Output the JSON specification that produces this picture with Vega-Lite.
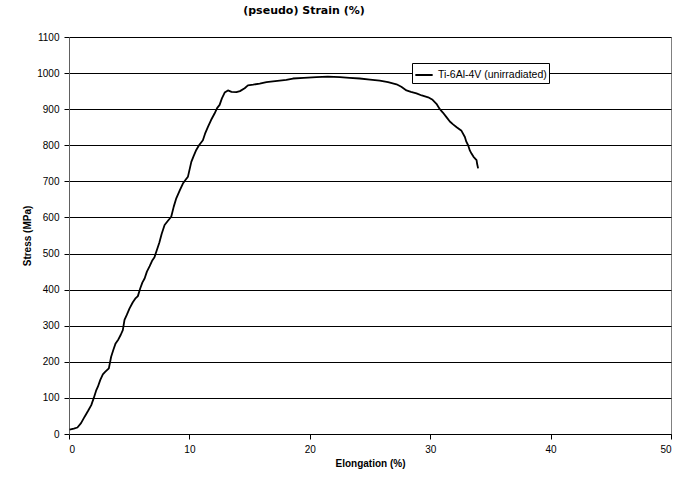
{
  "$schema": "https://vega.github.io/schema/vega-lite/v6.json",
  "width": 602,
  "height": 397,
  "autosize": {"type": "none"},
  "padding": {"left": 69, "top": 37, "right": 20, "bottom": 45},
  "background": "white",
  "title": {
    "text": "(pseudo) Strain (%)",
    "font": "DejaVu Sans",
    "fontSize": 11,
    "fontWeight": "bold",
    "color": "black",
    "anchor": "middle",
    "dx": -66,
    "offset": 16
  },
  "config": {
    "view": {"stroke": "#808080", "strokeWidth": 1},
    "axis": {
      "labelFont": "Liberation Sans",
      "titleFont": "Liberation Sans",
      "labelFontSize": 10,
      "titleFontSize": 10,
      "titleFontWeight": "bold",
      "labelColor": "black",
      "titleColor": "black",
      "domainColor": "black",
      "tickColor": "black",
      "tickSize": 5,
      "labelPadding": 5
    }
  },
  "data": {
    "values": [
      {"elongation": 0.05, "stress": 12},
      {"elongation": 0.4, "stress": 15},
      {"elongation": 0.7, "stress": 18},
      {"elongation": 1.0, "stress": 30},
      {"elongation": 1.3, "stress": 48},
      {"elongation": 1.6, "stress": 65},
      {"elongation": 1.85, "stress": 80},
      {"elongation": 2.06, "stress": 100},
      {"elongation": 2.25, "stress": 120},
      {"elongation": 2.4, "stress": 131},
      {"elongation": 2.6, "stress": 150},
      {"elongation": 2.81, "stress": 165},
      {"elongation": 3.0, "stress": 172},
      {"elongation": 3.31, "stress": 182},
      {"elongation": 3.5, "stress": 214},
      {"elongation": 3.7, "stress": 235},
      {"elongation": 3.87, "stress": 251},
      {"elongation": 4.1, "stress": 262},
      {"elongation": 4.3, "stress": 275},
      {"elongation": 4.47, "stress": 288},
      {"elongation": 4.61, "stress": 316},
      {"elongation": 4.8, "stress": 330},
      {"elongation": 5.03, "stress": 348},
      {"elongation": 5.3, "stress": 365},
      {"elongation": 5.5, "stress": 375},
      {"elongation": 5.72, "stress": 382},
      {"elongation": 5.92, "stress": 404},
      {"elongation": 6.1, "stress": 420},
      {"elongation": 6.28, "stress": 431},
      {"elongation": 6.47, "stress": 450},
      {"elongation": 6.7, "stress": 465},
      {"elongation": 6.9, "stress": 480},
      {"elongation": 7.1, "stress": 490},
      {"elongation": 7.25, "stress": 505},
      {"elongation": 7.5, "stress": 530},
      {"elongation": 7.7, "stress": 555},
      {"elongation": 7.94, "stress": 579},
      {"elongation": 8.2, "stress": 590},
      {"elongation": 8.49, "stress": 602},
      {"elongation": 8.7, "stress": 630},
      {"elongation": 8.91, "stress": 653},
      {"elongation": 9.2, "stress": 675},
      {"elongation": 9.46, "stress": 694},
      {"elongation": 9.7, "stress": 705},
      {"elongation": 9.88, "stress": 713},
      {"elongation": 10.16, "stress": 754},
      {"elongation": 10.35, "stress": 770},
      {"elongation": 10.57, "stress": 787},
      {"elongation": 10.8, "stress": 800},
      {"elongation": 11.12, "stress": 814},
      {"elongation": 11.3, "stress": 832},
      {"elongation": 11.54, "stress": 851},
      {"elongation": 11.8, "stress": 870},
      {"elongation": 12.09, "stress": 888},
      {"elongation": 12.3, "stress": 903},
      {"elongation": 12.51, "stress": 912},
      {"elongation": 12.7, "stress": 930},
      {"elongation": 12.93, "stress": 946},
      {"elongation": 13.2, "stress": 952},
      {"elongation": 13.5, "stress": 948},
      {"elongation": 13.9, "stress": 947},
      {"elongation": 14.2, "stress": 950},
      {"elongation": 14.59, "stress": 958},
      {"elongation": 14.86, "stress": 966},
      {"elongation": 15.3, "stress": 968},
      {"elongation": 15.84, "stress": 971},
      {"elongation": 16.4, "stress": 975},
      {"elongation": 16.94, "stress": 977},
      {"elongation": 17.5, "stress": 979},
      {"elongation": 18.05, "stress": 981},
      {"elongation": 18.6, "stress": 985},
      {"elongation": 19.5, "stress": 987},
      {"elongation": 20.55, "stress": 989},
      {"elongation": 21.5, "stress": 990},
      {"elongation": 22.5, "stress": 989},
      {"elongation": 23.3, "stress": 987},
      {"elongation": 24.15, "stress": 985},
      {"elongation": 25.0, "stress": 982},
      {"elongation": 25.81, "stress": 979},
      {"elongation": 26.5, "stress": 975},
      {"elongation": 27.2, "stress": 969},
      {"elongation": 27.6, "stress": 962},
      {"elongation": 28.03, "stress": 952},
      {"elongation": 28.4, "stress": 948},
      {"elongation": 28.86, "stress": 944},
      {"elongation": 29.3, "stress": 938},
      {"elongation": 29.83, "stress": 933},
      {"elongation": 30.2, "stress": 926},
      {"elongation": 30.52, "stress": 915},
      {"elongation": 30.8, "stress": 900},
      {"elongation": 31.07, "stress": 890},
      {"elongation": 31.35, "stress": 878},
      {"elongation": 31.63, "stress": 866},
      {"elongation": 31.9, "stress": 858},
      {"elongation": 32.2, "stress": 850},
      {"elongation": 32.6, "stress": 840},
      {"elongation": 32.88, "stress": 823},
      {"elongation": 33.0, "stress": 810},
      {"elongation": 33.15, "stress": 800},
      {"elongation": 33.3, "stress": 785},
      {"elongation": 33.43, "stress": 777},
      {"elongation": 33.6, "stress": 768},
      {"elongation": 33.85, "stress": 759},
      {"elongation": 33.9, "stress": 748},
      {"elongation": 33.98, "stress": 736}
    ]
  },
  "transform": [{"calculate": "'Ti-6Al-4V (unirradiated)'", "as": "series"}],
  "mark": {"type": "line", "strokeWidth": 1.8, "strokeJoin": "round", "interpolate": "linear"},
  "encoding": {
    "x": {
      "field": "elongation",
      "type": "quantitative",
      "scale": {"domain": [0, 50], "nice": false},
      "axis": {
        "values": [0, 10, 20, 30, 40, 50],
        "format": "d",
        "grid": false,
        "title": "Elongation (%)",
        "titlePadding": 4
      }
    },
    "y": {
      "field": "stress",
      "type": "quantitative",
      "scale": {"domain": [0, 1100], "nice": false},
      "axis": {
        "values": [0, 100, 200, 300, 400, 500, 600, 700, 800, 900, 1000, 1100],
        "format": "d",
        "grid": true,
        "gridColor": "black",
        "gridOpacity": 1,
        "gridWidth": 1,
        "domainColor": "#606060",
        "title": "Stress (MPa)",
        "titlePadding": 4
      }
    },
    "color": {
      "field": "series",
      "type": "nominal",
      "scale": {"range": ["black"]},
      "legend": {
        "title": null,
        "orient": "none",
        "legendX": 343,
        "legendY": 26,
        "direction": "vertical",
        "fillColor": "white",
        "strokeColor": "black",
        "padding": 2,
        "symbolType": "stroke",
        "symbolSize": 300,
        "symbolStrokeWidth": 2,
        "labelFont": "Liberation Sans",
        "labelFontSize": 10.5,
        "labelColor": "black",
        "labelOffset": 4
      }
    }
  }
}
